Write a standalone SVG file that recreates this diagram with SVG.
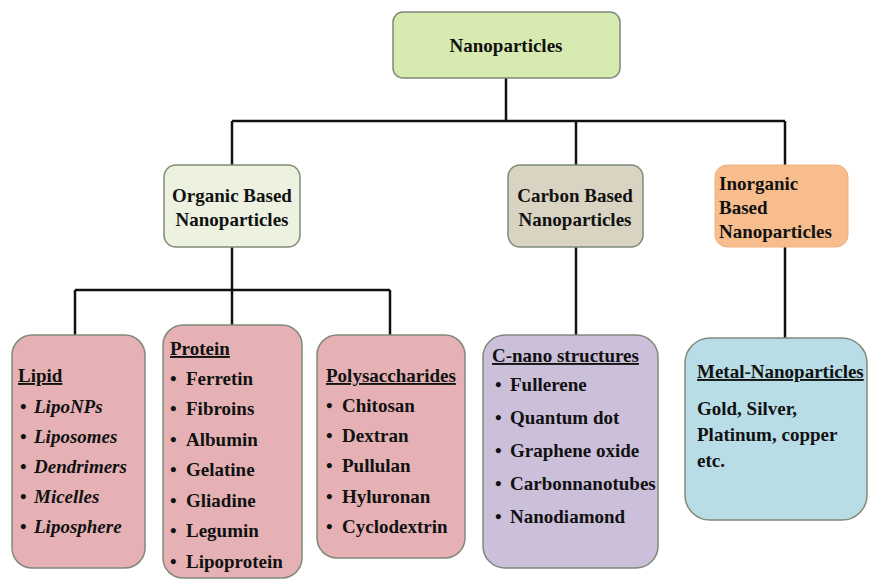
<svg xmlns="http://www.w3.org/2000/svg" width="869" height="580" viewBox="0 0 869 580">
<style>
.b{stroke:#7f8a7a;stroke-width:1.5}
.t{font-family:"Liberation Serif","Times New Roman",serif;font-weight:bold;font-size:19px;fill:#111}
.i{font-style:italic}
.u{text-decoration:underline}
.c{text-anchor:middle}
.ln{stroke:#111;stroke-width:2.5;fill:none}
</style>
<rect width="869" height="580" fill="#fff"/>
<g id="connectors">
<path class="ln" d="M506 78V121M232 121H785M232 121V165M576 121V165M785 121V165"/>
<path class="ln" d="M232 247V290M75 290H390M75 290V335M232 290V325M390 290V335"/>
<path class="ln" d="M576 247V335M785 247V338"/>
</g>
<g id="nanoparticles">
<rect class="b" x="393" y="12" width="227" height="66" rx="10" fill="#d7eab0"/>
<text class="t c" x="506" y="52">Nanoparticles</text>
</g>
<g id="organic">
<rect class="b" x="164" y="165" width="136" height="82" rx="12" fill="#ecf2df"/>
<text class="t c" x="232" y="202">Organic Based</text>
<text class="t c" x="232" y="226">Nanoparticles</text>
</g>
<g id="carbon">
<rect class="b" x="508" y="165" width="135" height="82" rx="12" fill="#d9d3c1"/>
<text class="t c" x="575" y="202">Carbon Based</text>
<text class="t c" x="575" y="226">Nanoparticles</text>
</g>
<g id="inorganic">
<rect x="715" y="165" width="133" height="82" rx="12" fill="#f7bd8c" stroke="#f0b080" stroke-width="1"/>
<text class="t" x="719" y="190">Inorganic</text>
<text class="t" x="719" y="214">Based</text>
<text class="t" x="719" y="238">Nanoparticles</text>
</g>
<g id="lipid">
<rect class="b" x="12" y="335" width="133" height="233" rx="20" fill="#e5b1b5"/>
<text class="t u" x="18" y="382">Lipid</text>
<text class="t" x="20" y="413">•</text><text class="t i" x="34" y="413">LipoNPs</text>
<text class="t" x="20" y="443">•</text><text class="t i" x="34" y="443">Liposomes</text>
<text class="t" x="20" y="473">•</text><text class="t i" x="34" y="473">Dendrimers</text>
<text class="t" x="20" y="503">•</text><text class="t i" x="34" y="503">Micelles</text>
<text class="t" x="20" y="533">•</text><text class="t i" x="34" y="533">Liposphere</text>
</g>
<g id="protein">
<rect class="b" x="163" y="325" width="139" height="253" rx="20" fill="#e5b1b5"/>
<text class="t u" x="170" y="355">Protein</text>
<text class="t" x="170" y="385">•</text><text class="t" x="186" y="385">Ferretin</text>
<text class="t" x="170" y="415">•</text><text class="t" x="186" y="415">Fibroins</text>
<text class="t" x="170" y="446">•</text><text class="t" x="186" y="446">Albumin</text>
<text class="t" x="170" y="476">•</text><text class="t" x="186" y="476">Gelatine</text>
<text class="t" x="170" y="507">•</text><text class="t" x="186" y="507">Gliadine</text>
<text class="t" x="170" y="537">•</text><text class="t" x="186" y="537">Legumin</text>
<text class="t" x="170" y="568">•</text><text class="t" x="186" y="568">Lipoprotein</text>
</g>
<g id="polysaccharides">
<rect class="b" x="317" y="335" width="148" height="223" rx="20" fill="#e5b1b5"/>
<text class="t u" x="326" y="382">Polysaccharides</text>
<text class="t" x="326" y="412">•</text><text class="t" x="342" y="412">Chitosan</text>
<text class="t" x="326" y="442">•</text><text class="t" x="342" y="442">Dextran</text>
<text class="t" x="326" y="472">•</text><text class="t" x="342" y="472">Pullulan</text>
<text class="t" x="326" y="503">•</text><text class="t" x="342" y="503">Hyluronan</text>
<text class="t" x="326" y="533">•</text><text class="t" x="342" y="533">Cyclodextrin</text>
</g>
<g id="cnano">
<rect class="b" x="483" y="335" width="175" height="233" rx="22" fill="#cbbfda"/>
<text class="t u" x="492" y="362">C-nano structures</text>
<text class="t" x="495" y="391">•</text><text class="t" x="510" y="391">Fullerene</text>
<text class="t" x="495" y="424">•</text><text class="t" x="510" y="424">Quantum dot</text>
<text class="t" x="495" y="457">•</text><text class="t" x="510" y="457">Graphene oxide</text>
<text class="t" x="495" y="490">•</text><text class="t" x="510" y="490">Carbonnanotubes</text>
<text class="t" x="495" y="523">•</text><text class="t" x="510" y="523">Nanodiamond</text>
</g>
<g id="metal">
<rect class="b" x="685" y="338" width="182" height="182" rx="25" fill="#b8dde7"/>
<text class="t u" x="697" y="378">Metal-Nanoparticles</text>
<text class="t" x="697" y="415">Gold, Silver,</text>
<text class="t" x="697" y="441">Platinum, copper</text>
<text class="t" x="697" y="467">etc.</text>
</g>
</svg>
